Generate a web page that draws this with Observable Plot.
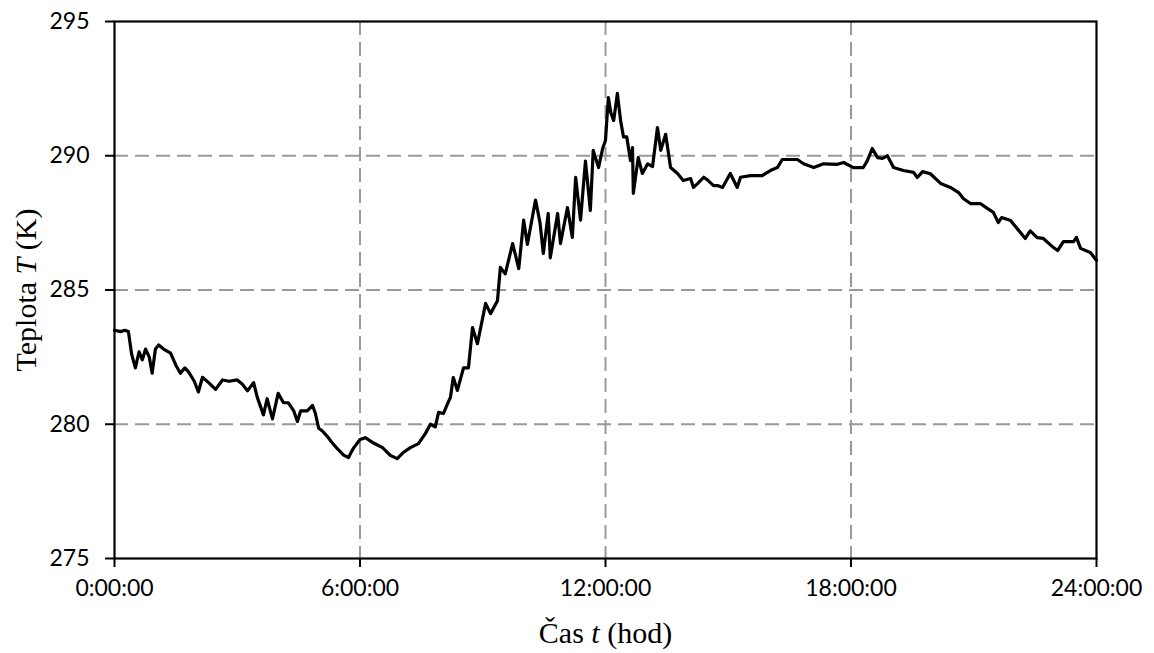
<!DOCTYPE html>
<html>
<head>
<meta charset="utf-8">
<script src="https://cdn.jsdelivr.net/npm/d3@7"></script>
<script src="https://cdn.jsdelivr.net/npm/@observablehq/plot@0.6"></script>
<style>
  html, body { margin: 0; padding: 0; background: #fff; }
  #chart { width: 1154px; height: 653px; }
</style>
</head>
<body>
<div id="chart"></div>
<script>
// Time in hours since midnight
const hours = [
  0, 0.15, 0.25, 0.34, 0.42, 0.51, 0.6, 0.68, 0.76, 0.85, 0.92, 1.0, 1.08, 1.2, 1.37, 1.5, 1.61, 1.72, 1.81, 1.95,
  2.05, 2.15, 2.3, 2.47, 2.64, 2.8, 3.0, 3.12, 3.25, 3.4, 3.49, 3.64, 3.73, 3.86, 4.0, 4.13, 4.25, 4.38, 4.47, 4.55,
  4.71, 4.84, 4.91, 4.99, 5.08, 5.2, 5.3, 5.44, 5.6, 5.72, 5.8, 5.85, 6.0, 6.13, 6.33, 6.55, 6.74, 6.91, 7.06, 7.23,
  7.43, 7.6, 7.72, 7.84, 7.92, 8.04, 8.14, 8.21, 8.28, 8.38, 8.53, 8.65, 8.75, 8.87, 9.07, 9.19, 9.36, 9.43, 9.55, 9.73,
  9.88, 10.0, 10.09, 10.29, 10.4, 10.48, 10.6, 10.65, 10.83, 10.9, 11.07, 11.19, 11.27, 11.39, 11.51, 11.63, 11.7, 11.83, 11.93, 12.0,
  12.07, 12.13, 12.2, 12.29, 12.37, 12.44, 12.52, 12.61, 12.66, 12.68, 12.8, 12.9, 13.03, 13.15, 13.27, 13.35, 13.47, 13.59, 13.76, 13.9,
  14.08, 14.15, 14.25, 14.4, 14.49, 14.64, 14.74, 14.86, 15.05, 15.22, 15.3, 15.54, 15.83, 16.03, 16.2, 16.32, 16.69, 16.84, 17.09, 17.33,
  17.67, 17.82, 18.06, 18.3, 18.4, 18.52, 18.65, 18.77, 18.89, 19.04, 19.28, 19.53, 19.62, 19.75, 19.94, 20.19, 20.43, 20.63, 20.75, 20.92,
  21.16, 21.33, 21.48, 21.6, 21.68, 21.9, 22.14, 22.26, 22.38, 22.55, 22.7, 22.95, 23.05, 23.19, 23.44, 23.51, 23.61, 23.85, 24.0
];
// Temperature in K
const temps = [
  283.5, 283.45, 283.5, 283.45, 282.6, 282.1, 282.7, 282.4, 282.8, 282.5, 281.9, 282.8, 282.95, 282.8, 282.65, 282.2, 281.9, 282.1, 281.95, 281.6,
  281.2, 281.75, 281.55, 281.3, 281.65, 281.6, 281.65, 281.5, 281.25, 281.55, 281.0, 280.35, 280.95, 280.2, 281.15, 280.8, 280.8, 280.5, 280.1, 280.5,
  280.5, 280.7, 280.4, 279.85, 279.75, 279.55, 279.35, 279.1, 278.85, 278.76, 279.0, 279.13, 279.43, 279.5, 279.3, 279.13, 278.84, 278.72, 278.95, 279.13,
  279.28, 279.66, 280.0, 279.9, 280.44, 280.4, 280.77, 281.0, 281.74, 281.26, 282.1, 282.1, 283.6, 283.0, 284.5, 284.12, 284.6, 285.84, 285.6, 286.73,
  285.8, 287.6, 286.7, 288.35, 287.5, 286.36, 287.85, 286.2, 287.85, 286.73, 288.07, 286.96, 289.2, 287.6, 289.8, 287.96, 290.2, 289.56, 290.27, 290.57,
  292.17, 291.6, 291.31, 292.32, 291.3, 290.7, 290.7, 289.82, 290.3, 288.6, 289.93, 289.34, 289.7, 289.6, 291.05, 290.2, 290.8, 289.56, 289.34, 289.08,
  289.15, 288.82, 288.96, 289.2, 289.1, 288.89, 288.89, 288.82, 289.34, 288.82, 289.2, 289.26, 289.26, 289.45, 289.56, 289.86, 289.86, 289.7, 289.56, 289.7,
  289.68, 289.75, 289.56, 289.56, 289.82, 290.27, 289.93, 289.9, 290.0, 289.56, 289.45, 289.38, 289.19, 289.41, 289.33, 288.97, 288.82, 288.63, 288.4, 288.22,
  288.22, 288.04, 287.89, 287.51, 287.7, 287.59, 287.14, 286.92, 287.2, 286.95, 286.92, 286.58, 286.47, 286.8, 286.8, 286.96, 286.55, 286.4, 286.1
];
const xTicks = [0, 6, 12, 18, 24];
const xTickLabels = ["0:00:00", "6:00:00", "12:00:00", "18:00:00", "24:00:00"];
const yTicks = [275, 280, 285, 290, 295];
const xGrid = [6, 12, 18];
const yGrid = [280, 285, 290];
const xTitle = "Čas t (hod)";
const yTitle = "Teplota T (K)";

const data = hours.map((h, i) => ({h, t: temps[i]}));

const gridStyle = {stroke: "#999999", strokeOpacity: 1, strokeWidth: 2, strokeDasharray: "14,7"};
const titleFont = {fontFamily: "'Liberation Serif', 'Times New Roman', serif", fontSize: 30, fill: "#000"};

const chart = Plot.plot({
  width: 1154,
  height: 653,
  marginLeft: 114,
  marginRight: 58,
  marginTop: 21,
  marginBottom: 95,
  style: {fontFamily: "Lato, 'Open Sans', sans-serif", fontSize: "23px", color: "#000", background: "#fff"},
  x: {domain: [0, 24]},
  y: {domain: [275, 295]},
  marks: [
    Plot.gridX(xGrid, gridStyle),
    Plot.gridY(yGrid, gridStyle),
    Plot.axisX(xTicks, {tickFormat: d => xTickLabels[xTicks.indexOf(d)], tickSize: 9, tickPadding: 12, strokeWidth: 2, label: null, fontSize: 23}),
    Plot.axisY(yTicks, {tickSize: 9, tickPadding: 16, strokeWidth: 2, label: null, fontSize: 23}),
    Plot.frame({stroke: "#000", strokeWidth: 2.2}),
    Plot.line(data, {x: "h", y: "t", stroke: "#000", strokeWidth: 3.2}),
    Plot.text([xTitle], {frameAnchor: "bottom", dy: 75, lineAnchor: "middle", ...titleFont}),
    Plot.text([yTitle], {frameAnchor: "left", dx: -88, rotate: -90, lineAnchor: "middle", textAnchor: "middle", ...titleFont})
  ]
});

document.getElementById("chart").appendChild(chart);

// italicize variable symbols in the axis titles
function italicize(full, before, sym, after) {
  chart.querySelectorAll("text").forEach(el => {
    if (el.textContent === full) {
      el.textContent = "";
      const s = d3.select(el);
      s.append("tspan").text(before);
      s.append("tspan").attr("font-style", "italic").text(sym);
      s.append("tspan").text(after);
    }
  });
}
italicize(xTitle, "Čas ", "t", " (hod)");
italicize(yTitle, "Teplota ", "T", " (K)");
</script>
</body>
</html>
